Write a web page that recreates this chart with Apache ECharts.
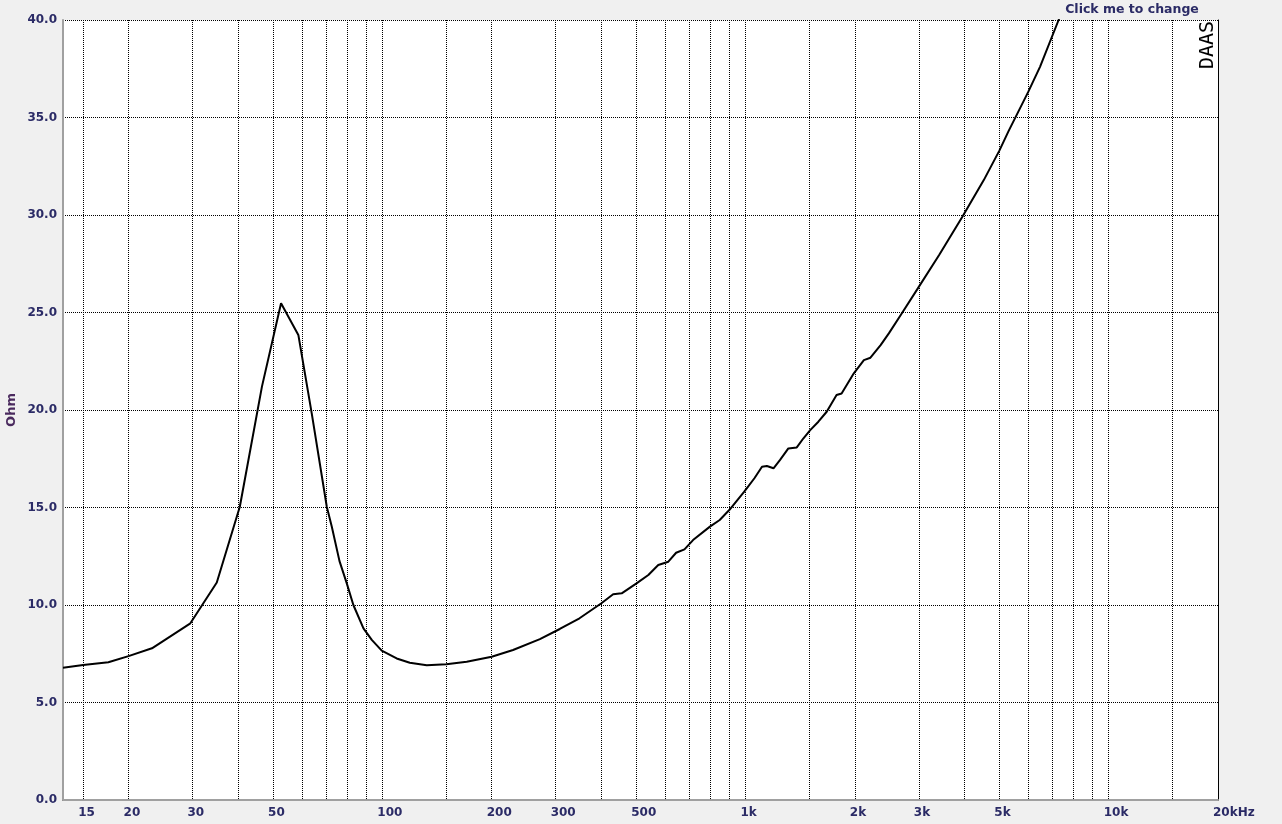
<!DOCTYPE html>
<html>
<head>
<meta charset="utf-8">
<script src="https://cdn.jsdelivr.net/npm/echarts@6/dist/echarts.min.js"></script>
<style>
    html, body { margin: 0; padding: 0; background: #f0f0f0; }
    #chart { width: 1282px; height: 824px; }
</style>
</head>
<body>
<div id="chart"></div>
<script>
    // impedance curve
    const freqHz = [13.2, 15, 17.6, 20, 23.2, 29.6, 35, 40.5, 46.6, 52.6, 58.7, 63.9, 70.3, 72.6, 76.2, 79.8,
        83.2, 88.7, 93.5, 99.6, 109.5, 119, 132.5, 150, 170.7, 200, 229, 271.5, 308, 349, 401, 432, 456, 501,
        540, 575, 613, 644, 679, 717, 798, 849, 902, 992, 1058, 1110, 1145, 1194, 1245, 1312, 1384, 1444,
        1507, 1587, 1673, 1781, 1839, 1987, 2118, 2208, 2355, 2481, 2695, 2994, 3413, 3955, 4530, 5000,
        5300, 6000, 6470, 7280, 8000];
    const ohms = [6.78, 6.92, 7.06, 7.38, 7.78, 9.06, 11.15, 15.04, 21.2, 25.47, 23.85, 19.83, 15.04, 14.0, 12.25, 11.11,
        10.0, 8.8, 8.21, 7.66, 7.26, 7.04, 6.91, 6.96, 7.09, 7.35, 7.69, 8.25, 8.77, 9.32, 10.09, 10.55, 10.6, 11.11,
        11.54, 12.05, 12.22, 12.68, 12.85, 13.33, 14.02, 14.36, 14.87, 15.81, 16.5, 17.09, 17.13, 17.01, 17.44, 18.03, 18.08, 18.55,
        18.97, 19.4, 19.91, 20.77, 20.85, 21.88, 22.56, 22.68, 23.33, 23.93, 24.96, 26.29, 27.95, 29.91, 31.79, 33.3,
        34.3, 36.3, 37.6, 40.0, 42.2];

    const gridFreqs = [15, 20, 30, 40, 50, 60, 70, 80, 90, 100, 150, 200, 300, 400, 500, 600, 700, 800, 900,
        1000, 1500, 2000, 3000, 4000, 5000, 6000, 7000, 8000, 9000, 10000, 15000];
    const labelFreqs = [15, 20, 30, 50, 100, 200, 300, 500, 1000, 2000, 3000, 5000, 10000, 20000];

    const labelColor = '#2b2b66';
    const dotted = {color: '#000', width: 1, type: [1, 1]};

    const chart = echarts.init(document.getElementById('chart'));
    chart.setOption({
        backgroundColor: '#f0f0f0',
        animation: false,
        grid: {
            left: 63,
            right: 64,
            top: 20,
            bottom: 24,
            outerBoundsMode: 'none',
            containLabel: false,
            show: true,
            backgroundColor: '#ffffff',
            borderWidth: 0
        },
        xAxis: [{
            type: 'log',
            logBase: 10,
            min: 13.2,
            max: 20000,
            axisLine: {show: true, lineStyle: {color: '#000', width: 1}},
            axisTick: {show: false, customValues: gridFreqs},
            axisLabel: {
                customValues: labelFreqs,
                align: 'left',
                padding: [0, 0, 0, -5],
                margin: 7,
                color: labelColor,
                fontFamily: 'DejaVu Sans',
                fontWeight: 'bold',
                fontSize: 12,
                formatter: (v) => {
                    if (v >= 20000) return '20kHz';
                    if (v >= 1000) return (v / 1000) + 'k';
                    return String(v);
                }
            },
            splitLine: {show: true, lineStyle: dotted}
        }, {
            type: 'log',
            logBase: 10,
            min: 13.2,
            max: 20000,
            position: 'top',
            axisLine: {show: true, lineStyle: {color: '#a0a0a0', width: 2}},
            axisTick: {show: false},
            axisLabel: {show: false},
            splitLine: {show: false}
        }],
        yAxis: [{
            type: 'value',
            min: 0,
            max: 40,
            interval: 5,
            name: 'Ohm',
            nameLocation: 'middle',
            nameGap: 45,
            nameMoveOverlap: false,
            nameTextStyle: {
                color: '#4a2a5e',
                fontFamily: 'DejaVu Sans',
                fontWeight: 'bold',
                fontSize: 13
            },
            axisLine: {show: true, lineStyle: {color: '#a0a0a0', width: 2}},
            axisTick: {show: false},
            axisLabel: {
                margin: 6,
                color: labelColor,
                fontFamily: 'DejaVu Sans',
                fontWeight: 'bold',
                fontSize: 12,
                formatter: (v) => v.toFixed(1)
            },
            splitLine: {show: true, lineStyle: dotted}
        }, {
            type: 'value',
            min: 0,
            max: 40,
            interval: 5,
            position: 'right',
            axisLine: {show: true, lineStyle: {color: '#000', width: 1}},
            axisTick: {show: false},
            axisLabel: {show: false},
            splitLine: {show: false}
        }],
        graphic: [{
            type: 'text',
            x: 1132,
            y: 10,
            style: {
                text: 'Click me to change',
                fill: labelColor,
                font: 'bold 12.5px "DejaVu Sans"',
                textAlign: 'center',
                textVerticalAlign: 'middle'
            }
        }, {
            type: 'text',
            x: 1208,
            y: 45,
            rotation: Math.PI / 2,
            style: {
                text: 'DAAS',
                fill: '#000',
                font: '20px "DejaVu Sans Mono"',
                textAlign: 'center',
                textVerticalAlign: 'middle'
            }
        }],
        series: [{
            type: 'line',
            xAxisIndex: 0,
            yAxisIndex: 0,
            symbol: 'none',
            clip: true,
            lineStyle: {color: '#000', width: 2},
            data: freqHz.map((f, i) => [f, ohms[i]])
        }]
    });
</script>
</body>
</html>
